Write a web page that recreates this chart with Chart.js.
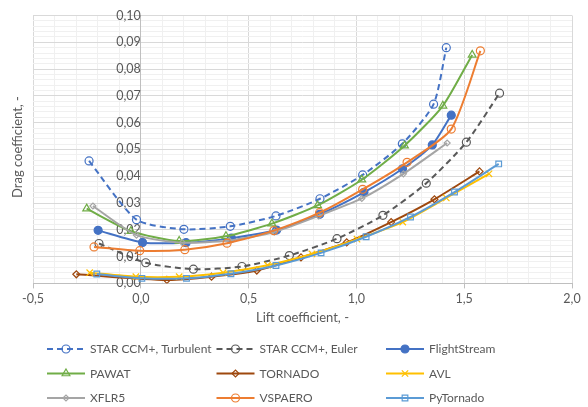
<!DOCTYPE html>
<html>
<head>
<meta charset="utf-8">
<script src="https://cdn.jsdelivr.net/npm/chart.js@4.4.1/dist/chart.umd.min.js"></script>
<style>
  html, body { margin: 0; padding: 0; background: #fff; }
</style>
</head>
<body>
<canvas id="myChart" width="588" height="407"></canvas>
<script>
// lift (x) and drag (y) coefficients per solver
const turbX = [-0.24, -0.02, 0.20, 0.415, 0.627, 0.831, 1.029, 1.213, 1.358, 1.417];
const turbY = [0.0457, 0.0238, 0.0202, 0.0213, 0.0252, 0.0316, 0.0405, 0.0521, 0.0669, 0.0880];

const eulerX = [-0.194, 0.023, 0.244, 0.469, 0.689, 0.91, 1.123, 1.324, 1.51, 1.664];
const eulerY = [0.0149, 0.0077, 0.0053, 0.0063, 0.0104, 0.0167, 0.0254, 0.0374, 0.0527, 0.0710];

const flightX = [-0.198, 0.008, 0.21, 0.42, 0.63, 0.83, 1.035, 1.214, 1.352, 1.44];
const flightY = [0.0198, 0.0153, 0.0152, 0.0169, 0.0199, 0.0258, 0.0340, 0.0428, 0.0517, 0.0628];

const pawatX = [-0.251, -0.046, 0.178, 0.395, 0.608, 0.82, 1.025, 1.223, 1.401, 1.537];
const pawatY = [0.0279, 0.0195, 0.0158, 0.0176, 0.0223, 0.0291, 0.0387, 0.0514, 0.0663, 0.0853];

const tornX = [-0.299, 0.121, 0.328, 0.538, 0.743, 0.955, 1.161, 1.362, 1.571];
const tornY = [0.0034, 0.0013, 0.0025, 0.0048, 0.0097, 0.0153, 0.0229, 0.0314, 0.0418];

const avlX = [-0.237, -0.023, 0.178, 0.382, 0.588, 0.794, 1.003, 1.215, 1.417, 1.615];
const avlY = [0.0040, 0.0025, 0.0025, 0.0040, 0.0068, 0.0110, 0.0165, 0.0229, 0.0319, 0.0409];

const xflrX = [-0.222, -0.02, 0.193, 0.41, 0.62, 0.825, 1.025, 1.218, 1.421];
const xflrY = [0.0289, 0.0180, 0.0152, 0.0160, 0.0192, 0.0252, 0.0317, 0.0409, 0.0524];

const vspX = [-0.217, -0.005, 0.204, 0.40, 0.617, 0.829, 1.029, 1.235, 1.44, 1.575];
const vspY = [0.0136, 0.0122, 0.0126, 0.0150, 0.0197, 0.0264, 0.0351, 0.0452, 0.0576, 0.0868];

const pyX = [-0.204, 0.005, 0.212, 0.418, 0.627, 0.836, 1.045, 1.251, 1.455, 1.66];
const pyY = [0.0035, 0.0019, 0.0019, 0.0036, 0.0067, 0.0114, 0.0174, 0.0248, 0.0341, 0.0446];

const xTicks = [-0.5, 0.0, 0.5, 1.0, 1.5, 2.0];
const yTicks = [0.00, 0.01, 0.02, 0.03, 0.04, 0.05, 0.06, 0.07, 0.08, 0.09, 0.10];

const FONT = "Lato";
const TEXT = "#595959";

const series = [
    { label: "STAR CCM+, Turbulent", x: turbX, y: turbY, color: "#4472C4", dash: [6, 4], marker: "circle", r: 4, filled: false },
    { label: "STAR CCM+, Euler", x: eulerX, y: eulerY, color: "#595959", dash: [6, 4], marker: "circle", r: 4, filled: false },
    { label: "FlightStream", x: flightX, y: flightY, color: "#4472C4", dash: [], marker: "circle", r: 4, filled: true },
    { label: "PAWAT", x: pawatX, y: pawatY, color: "#70AD47", dash: [], marker: "triangle", r: 4.5, filled: false },
    { label: "TORNADO", x: tornX, y: tornY, color: "#9E480E", dash: [], marker: "rectRot", r: 3.5, filled: false },
    { label: "AVL", x: avlX, y: avlY, color: "#FFC000", dash: [], marker: "crossRot", r: 4.5, filled: false },
    { label: "XFLR5", x: xflrX, y: xflrY, color: "#A5A5A5", dash: [], marker: "rectRot", r: 3, filled: false },
    { label: "VSPAERO", x: vspX, y: vspY, color: "#ED7D31", dash: [], marker: "circle", r: 4, filled: false },
    { label: "PyTornado", x: pyX, y: pyY, color: "#5B9BD5", dash: [], marker: "rect", r: 4, filled: false }
];

const datasets = series.map((s, i) => ({
    label: s.label,
    data: s.x.map((v, j) => ({ x: v, y: s.y[j] })),
    showLine: true,
    tension: 0.22,
    borderColor: s.color,
    borderWidth: 2,
    borderDash: s.dash,
    pointStyle: s.marker,
    pointRadius: s.r,
    pointBorderWidth: 1.2,
    pointBorderColor: s.color,
    pointBackgroundColor: s.filled ? s.color : "rgba(255,255,255,0)",
    order: series.length - i   // later series on top
}));

function near(v, list) {
    return list.some(t => Math.abs(v - t) < 1e-6);
}

function comma(v, digits) {
    let r = Number(v.toFixed(digits));
    if (Math.abs(r) < 1e-9) r = 0;
    return r.toFixed(digits).replace(".", ",");
}

// y title on the left and a three-column legend under the plot
const extras = {
    id: "extras",
    afterDraw(chart) {
        const ctx = chart.ctx;
        ctx.save();
        ctx.fillStyle = TEXT;
        ctx.font = "13px " + FONT;
        ctx.textAlign = "center";
        ctx.textBaseline = "middle";
        ctx.translate(18, 147);
        ctx.rotate(-Math.PI / 2);
        ctx.fillText("Drag coefficient, -", 0, 0);
        ctx.restore();

        chart.data.datasets.forEach((ds, i) => {
            const x = 47 + (i % 3) * 169.5;
            const y = 349 + Math.floor(i / 3) * 24.5;
            ctx.save();
            ctx.strokeStyle = ds.borderColor;
            ctx.lineWidth = ds.borderWidth;
            ctx.setLineDash(ds.borderDash);
            ctx.beginPath();
            ctx.moveTo(x, y);
            ctx.lineTo(x + 38, y);
            ctx.stroke();
            ctx.setLineDash([]);
            ctx.fillStyle = ds.pointBackgroundColor;
            ctx.lineWidth = ds.pointBorderWidth;
            Chart.helpers.drawPoint(ctx, {
                pointStyle: ds.pointStyle,
                radius: ds.pointRadius,
                borderWidth: ds.pointBorderWidth,
                rotation: 0
            }, x + 19, y);
            ctx.fillStyle = TEXT;
            ctx.font = "12px " + FONT;
            ctx.textAlign = "left";
            ctx.textBaseline = "middle";
            ctx.fillText(ds.label, x + 43, y + 0.5);
            ctx.restore();
        });
    }
};

new Chart(document.getElementById("myChart"), {
    type: "scatter",
    data: { datasets: datasets },
    options: {
        responsive: false,
        animation: false,
        layout: { padding: { left: 33, right: 16, top: 10, bottom: 81 } },
        plugins: { legend: { display: false }, tooltip: { enabled: false } },
        scales: {
            x: {
                type: "linear",
                min: -0.5,
                max: 2.0,
                ticks: {
                    stepSize: 0.1,
                    autoSkip: false,
                    maxRotation: 0,
                    padding: 3,
                    color: TEXT,
                    font: { family: FONT, size: 12.5 },
                    callback: (v) => near(v, xTicks) ? comma(v, 1) : ""
                },
                grid: {
                    color: (c) => near(c.tick.value, xTicks) ? "#d9d9d9" : "#f0f0f0",
                    tickColor: (c) => near(c.tick.value, xTicks) ? "#bfbfbf" : "rgba(0,0,0,0)",
                    tickLength: 5
                },
                border: { color: "#bfbfbf" },
                title: {
                    display: true,
                    text: "Lift coefficient, -",
                    color: TEXT,
                    font: { family: FONT, size: 13 },
                    padding: { top: 1, bottom: 0 }
                }
            },
            y: {
                type: "linear",
                position: { x: 0 },
                min: 0,
                max: 0.1,
                ticks: {
                    stepSize: 0.002,
                    autoSkip: false,
                    padding: 8,
                    color: TEXT,
                    font: { family: FONT, size: 12.5 },
                    callback: (v) => near(v, yTicks) ? comma(v, 2) : ""
                },
                grid: {
                    color: (c) => near(c.tick.value, yTicks) ? "#d9d9d9" : "#f0f0f0",
                    tickColor: (c) => near(c.tick.value, yTicks) ? "#bfbfbf" : "rgba(0,0,0,0)",
                    tickLength: 5
                },
                border: { color: "#bfbfbf" }
            }
        }
    },
    plugins: [extras]
});
</script>
</body>
</html>
